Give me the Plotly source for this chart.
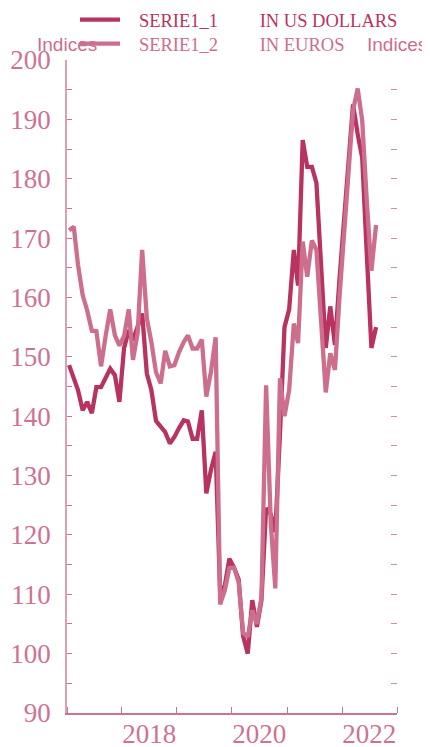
import pandas as pd
import plotly.graph_objects as go

months = pd.date_range("2017-01-01", periods=68, freq="MS") + pd.Timedelta(days=14)

serie1_1 = [148.6, 146.6, 144.4, 141.0, 142.4, 140.5, 144.9, 144.9, 146.3, 148.0, 146.9, 142.4,
            151.5, 154.5, 152.8, 155.3, 157.3, 147.2, 144.4, 139.2, 138.2, 137.3, 135.4, 136.5,
            138.0, 139.3, 139.1, 136.2, 136.2, 141.0, 127.0, 131.0, 134.0, 110.0, 111.5, 116.0,
            114.5, 112.5, 103.0, 100.0, 109.0, 104.5, 109.0, 124.5, 123.5, 120.5, 137.0, 155.0,
            158.0, 168.0, 162.0, 186.5, 182.0, 182.0, 179.3, 165.0, 151.5, 158.5, 152.0, 163.0,
            173.0, 183.0, 192.5, 187.5, 183.5, 167.0, 151.5, 155.0]

serie1_2 = [171.3, 171.9, 165.5, 160.4, 157.8, 154.4, 154.3, 148.4, 153.6, 158.0, 153.6, 151.9,
            153.5, 158.0, 149.5, 154.0, 168.0, 156.5, 152.5, 147.4, 145.5, 151.0, 148.4, 148.6,
            150.8, 152.5, 153.6, 151.4, 151.4, 152.9, 143.3, 147.5, 153.3, 108.3, 110.7, 114.4,
            114.5, 112.0, 103.5, 102.8, 107.3, 105.0, 109.5, 145.2, 122.0, 111.0, 146.4, 140.0,
            144.4, 155.6, 152.3, 169.4, 163.5, 169.6, 168.0, 155.0, 144.0, 150.6, 147.8, 160.0,
            170.5, 181.0, 191.5, 195.2, 189.8, 176.0, 164.5, 172.2]

series_names = ["SERIE1_1", "SERIE1_2"]
series_units = ["IN US DOLLARS", "IN EUROS"]
year_labels = ["2018", "2020", "2022"]
year_label_pos = ["2018-07-01", "2020-07-01", "2022-07-01"]
axis_title = "Indices"

DARK = "#b8335f"
LIGHT = "#cc6e8c"
AXIS = "#cd7391"
SERIF = "Liberation Serif, Times New Roman, serif"
SANS = "Liberation Sans, Arial, sans-serif"

OFF = 8  # default page body margin
W, H = 430 - OFF, 747 - OFF
T, B, L, R = 60 - OFF, 34, 67 - OFF, 33
PH = H - T - B
PW = W - L - R


def py(page_px):
    return 1 + (T - (page_px - OFF)) / PH


def pxx(page_px):
    return ((page_px - OFF) - L) / PW


pre = "\u00a0" * 3
pad = "\u00a0" * 9
fig = go.Figure()
legends = ["legend", "legend2"]
legend_y = [20, 44]
for i, (vals, name, unit, col) in enumerate([(serie1_1, series_names[0], series_units[0], DARK),
                                              (serie1_2, series_names[1], series_units[1], LIGHT)]):
    fig.add_trace(go.Scatter(
        x=months, y=vals, mode="lines",
        line=dict(color=col, width=4.3),
        name=f'<span style="color:{col}">{pre}{name}{pad}{unit}</span>',
        legend=legends[i],
    ))

fig.add_trace(go.Scatter(x=[months[0]], y=[None], yaxis="y2", showlegend=False, hoverinfo="skip"))

leg_common = dict(xanchor="left", yanchor="middle",
                  font=dict(family=SERIF, size=18.5), itemwidth=40,
                  bgcolor="rgba(0,0,0,0)")

fig.update_layout(
    width=W, height=H,
    margin=dict(l=L, r=R, t=T, b=B, autoexpand=False),
    paper_bgcolor="white", plot_bgcolor="white",
    showlegend=True,
    legend=dict(x=pxx(75), y=py(legend_y[0]), **leg_common),
    legend2=dict(x=pxx(75), y=py(legend_y[1]), **leg_common),
    xaxis=dict(
        type="date", range=["2017-01-01", "2023-01-01"], automargin=False,
        tickmode="array", tickvals=year_label_pos, ticktext=year_labels,
        ticks="", showgrid=False, zeroline=False,
        showline=True, linecolor=AXIS, linewidth=2,
        tickfont=dict(family=SERIF, size=27, color=AXIS),
        ticklabelstandoff=-4,
        minor=dict(dtick="M12", tick0="2018-01-01", ticks="inside", ticklen=6,
                   tickcolor=AXIS, tickwidth=1, showgrid=False),
    ),
    yaxis=dict(
        range=[90, 200], dtick=10, tick0=90, automargin=False,
        ticks="inside", ticklen=5, tickcolor=AXIS, tickwidth=1,
        showgrid=False, zeroline=False,
        showline=True, linecolor="#dba0b3", linewidth=1.5,
        tickfont=dict(family=SERIF, size=27, color=AXIS),
        ticklabelstandoff=9,
        minor=dict(dtick=5, ticks="inside", ticklen=5, tickcolor=AXIS, tickwidth=1, showgrid=False),
    ),
    yaxis2=dict(
        range=[90, 200], overlaying="y", side="right", automargin=False,
        dtick=5, tick0=90, ticks="inside", ticklen=6, tickcolor="#d88aa3", tickwidth=1,
        showticklabels=False, showgrid=False, zeroline=False, showline=False,
    ),
)

fig.add_annotation(text=axis_title, xref="paper", yref="paper", x=0, y=py(44),
                   xanchor="center", yanchor="middle", showarrow=False,
                   font=dict(family=SANS, size=19, color=LIGHT))
fig.add_annotation(text=axis_title, xref="paper", yref="paper", x=1, y=py(44),
                   xanchor="center", yanchor="middle", showarrow=False,
                   font=dict(family=SANS, size=19, color=LIGHT))

fig.write_html("out.html")
